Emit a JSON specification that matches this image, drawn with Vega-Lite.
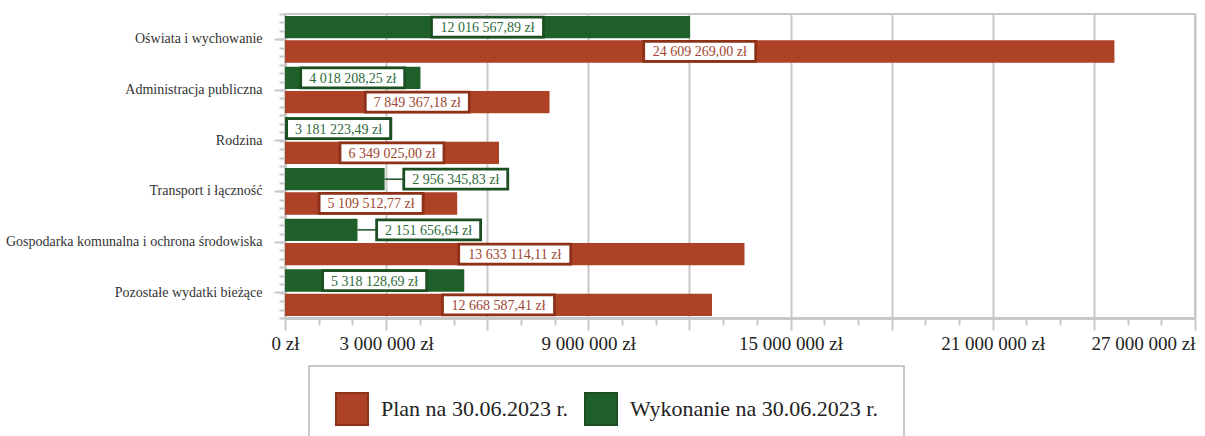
{
  "$schema": "https://vega.github.io/schema/vega-lite/v6.json",
  "width": 910,
  "height": 304,
  "autosize": {"type": "none"},
  "padding": {"left": 285, "top": 14, "right": 10, "bottom": 118},
  "config": {
    "locale": {"number": {"decimal": ",", "thousands": " ", "grouping": [3], "currency": ["", " zł"]}},
    "font": "Liberation Serif",
    "view": {"stroke": "#c8c8c8", "strokeWidth": 2},
    "legend": {"strokeWidth": 2}
  },
  "data": {
    "values": [
      {"category": "Oświata i wychowanie", "series": "Wykonanie na 30.06.2023 r.", "value": 12016567.89},
      {"category": "Oświata i wychowanie", "series": "Plan na 30.06.2023 r.", "value": 24609269.00},
      {"category": "Administracja publiczna", "series": "Wykonanie na 30.06.2023 r.", "value": 4018208.25},
      {"category": "Administracja publiczna", "series": "Plan na 30.06.2023 r.", "value": 7849367.18},
      {"category": "Rodzina", "series": "Wykonanie na 30.06.2023 r.", "value": 3181223.49},
      {"category": "Rodzina", "series": "Plan na 30.06.2023 r.", "value": 6349025.00},
      {"category": "Transport i łączność", "series": "Wykonanie na 30.06.2023 r.", "value": 2956345.83},
      {"category": "Transport i łączność", "series": "Plan na 30.06.2023 r.", "value": 5109512.77},
      {"category": "Gospodarka komunalna i ochrona środowiska", "series": "Wykonanie na 30.06.2023 r.", "value": 2151656.64},
      {"category": "Gospodarka komunalna i ochrona środowiska", "series": "Plan na 30.06.2023 r.", "value": 13633114.11},
      {"category": "Pozostałe wydatki bieżące", "series": "Wykonanie na 30.06.2023 r.", "value": 5318128.69},
      {"category": "Pozostałe wydatki bieżące", "series": "Plan na 30.06.2023 r.", "value": 12668587.41}
    ]
  },
  "resolve": {"scale": {"y": "independent"}, "axis": {"y": "independent"}},
  "layer": [
    {
      "encoding": {
        "y": {
          "field": "category",
          "type": "nominal",
          "sort": ["Oświata i wychowanie", "Administracja publiczna", "Rodzina", "Transport i łączność", "Gospodarka komunalna i ochrona środowiska", "Pozostałe wydatki bieżące"],
          "scale": {"paddingInner": 0.08, "paddingOuter": 0.04},
          "axis": {
            "title": null,
            "orient": "left",
            "labelFontSize": 14,
            "labelFont": "Liberation Serif",
            "labelColor": "#333333",
            "labelPadding": 12,
            "tickSize": 11,
            "tickColor": "#c8c8c8",
            "tickWidth": 2,
            "domainColor": "#c8c8c8",
            "domainWidth": 3,
            "grid": false,
            "labelLimit": 400
          }
        },
        "yOffset": {
          "field": "series",
          "sort": ["Wykonanie na 30.06.2023 r.", "Plan na 30.06.2023 r."],
          "scale": {"paddingInner": 0.08}
        }
      },
      "layer": [
        {
          "mark": {"type": "bar"},
          "encoding": {
            "x": {
              "field": "value",
              "type": "quantitative",
              "scale": {"domain": [0, 27000000], "nice": false},
              "axis": {
                "title": null,
                "values": [0, 1000000, 2000000, 3000000, 4000000, 5000000, 6000000, 7000000, 8000000, 9000000, 10000000, 11000000, 12000000, 13000000, 14000000, 15000000, 16000000, 17000000, 18000000, 19000000, 20000000, 21000000, 22000000, 23000000, 24000000, 25000000, 26000000, 27000000],
                "tickCount": 40,
                "format": "$,.0f",
                "labelExpr": "indexof([0, 3, 9, 15, 21, 27], datum.value / 1000000) >= 0 ? datum.label : ''",
                "labelOverlap": false,
                "labelFlush": false,
                "labelAlign": {"condition": {"test": "datum.value >= 27000000", "value": "right"}, "value": "center"},
                "labelFontSize": 19,
                "labelFont": "Liberation Serif",
                "labelColor": "#222222",
                "labelPadding": 4,
                "tickColor": "#c8c8c8",
                "tickWidth": 2,
                "tickSize": {"condition": {"test": "datum.value % 3000000 === 0", "value": 12}, "value": 7},
                "grid": true,
                "gridColor": "#c8c8c8",
                "gridWidth": 2,
                "gridOpacity": {"condition": {"test": "datum.value % 3000000 === 0", "value": 1}, "value": 0},
                "domainColor": "#c8c8c8",
                "domainWidth": 3
              }
            },
            "color": {
              "field": "series",
              "type": "nominal",
              "scale": {"domain": ["Plan na 30.06.2023 r.", "Wykonanie na 30.06.2023 r."], "range": ["#ad4227", "#1e5f2a"]},
              "legend": {
                "title": null,
                "orient": "none",
                "legendX": 24,
                "legendY": 352,
                "direction": "horizontal",
                "padding": 26,
                "strokeColor": "#c8c8c8",
                "symbolType": "square",
                "symbolSize": 1024,
                "labelFontSize": 22,
                "labelFont": "Liberation Serif",
                "labelColor": "#222222",
                "labelOffset": 12,
                "columnPadding": 13,
                "labelLimit": 400,
                "encode": {
                  "symbols": {
                    "update": {
                      "stroke": {"signal": "datum.value === 'Plan na 30.06.2023 r.' ? '#8e3119' : '#1b4f22'"},
                      "strokeWidth": {"value": 2}
                    }
                  }
                }
              }
            }
          }
        },
        {
          "transform": [
            {"filter": "datum.value < 3000000"},
            {"calculate": "datum.value + 570000", "as": "lead_end"}
          ],
          "mark": {"type": "rule", "color": "#1b4f22", "strokeWidth": 1.5},
          "encoding": {
            "x": {"field": "value", "type": "quantitative"},
            "x2": {"field": "lead_end"}
          }
        },
        {
          "transform": [
            {"calculate": "datum.value < 3000000 ? datum.value + 2110000 : datum.value / 2", "as": "label_x"}
          ],
          "mark": {"type": "point", "filled": true, "fill": "white", "opacity": 1, "strokeWidth": 2.8},
          "encoding": {
            "x": {"field": "label_x", "type": "quantitative"},
            "shape": {"condition": {"test": "datum.value >= 10000000", "value": "M-1,-0.1786L1,-0.1786L1,0.1786L-1,0.1786Z"}, "value": "M-1,-0.1923L1,-0.1923L1,0.1923L-1,0.1923Z"},
            "size": {"condition": {"test": "datum.value >= 10000000", "value": 12544}, "value": 10816},
            "stroke": {"condition": {"test": "datum.series === 'Plan na 30.06.2023 r.'", "value": "#8e3119"}, "value": "#1b4f22"}
          }
        },
        {
          "transform": [
            {"calculate": "datum.value < 3000000 ? datum.value + 2110000 : datum.value / 2", "as": "label_x"}
          ],
          "mark": {"type": "text", "fontSize": 14, "font": "Liberation Serif", "baseline": "middle", "align": "center", "dy": 1},
          "encoding": {
            "x": {"field": "label_x", "type": "quantitative"},
            "text": {"field": "value", "type": "quantitative", "format": "$,.2f"},
            "color": {"condition": {"test": "datum.series === 'Plan na 30.06.2023 r.'", "value": "#a0452f"}, "value": "#2d6a3a"}
          }
        }
      ]
    },
    {
      "mark": {"type": "point", "opacity": 0},
      "encoding": {
        "y": {
          "datum": 0,
          "type": "quantitative",
          "scale": {"domain": [0, 36], "nice": false, "zero": false},
          "axis": {
            "orient": "left",
            "title": null,
            "values": [0, 1, 2, 3, 4, 5, 6, 7, 8, 9, 10, 11, 12, 13, 14, 15, 16, 17, 18, 19, 20, 21, 22, 23, 24, 25, 26, 27, 28, 29, 30, 31, 32, 33, 34, 35, 36],
            "tickCount": 40,
            "labels": false,
            "domain": false,
            "grid": false,
            "tickSize": 6,
            "tickColor": "#c8c8c8",
            "tickWidth": 2
          }
        }
      }
    }
  ]
}
